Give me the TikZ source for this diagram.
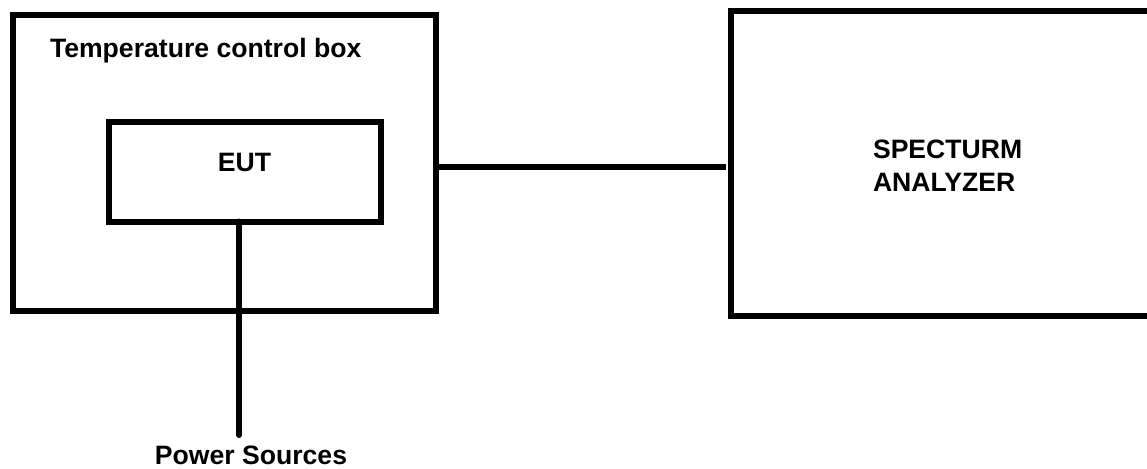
\documentclass[tikz,border=0pt]{standalone}
\usepackage{fontspec}
\setmainfont{Liberation Sans}
\begin{document}
\begin{tikzpicture}[x=1pt,y=-1pt,
  boxstyle/.style={draw=black,line width=6pt,rectangle,inner sep=0pt,outer sep=0pt},
  lbl/.style={font=\fontsize{26.6}{33}\selectfont\bfseries,inner sep=0pt,outer sep=0pt},
  wire/.style={draw=black,line width=6pt}]
\useasboundingbox (0,0) rectangle (1147,468);
\clip (0,0) rectangle (1147,468);
\node[boxstyle,minimum width=423pt,minimum height=295.5pt] (tcb) at (224.5,163.25) {};
\node[boxstyle,minimum width=272pt,minimum height=100pt] (eut) at (245,171.5) {};
\node[boxstyle,minimum width=424pt,minimum height=305pt] (sa) at (943,163.5) {};
\node[lbl,anchor=base west] (tcbl) at (50,58) {Temperature control box};
\node[lbl,anchor=base] (eutl) at (244.5,171) {EUT};
\node[lbl,anchor=base west] (sal1) at (873,158) {SPECTURM};
\node[lbl,anchor=base west] (sal2) at (873,191) {ANALYZER};
\node[lbl,anchor=base] (ps) at (251,464.5) {Power Sources};
\coordinate (hc) at (0,167);
\coordinate (pend) at (239,435);
\draw[wire] (tcb.east |- hc) -- ([xshift=-5pt]sa.west |- hc);
\draw[wire,line cap=round] (eut.south -| pend) -- (pend);
\end{tikzpicture}
\end{document}
